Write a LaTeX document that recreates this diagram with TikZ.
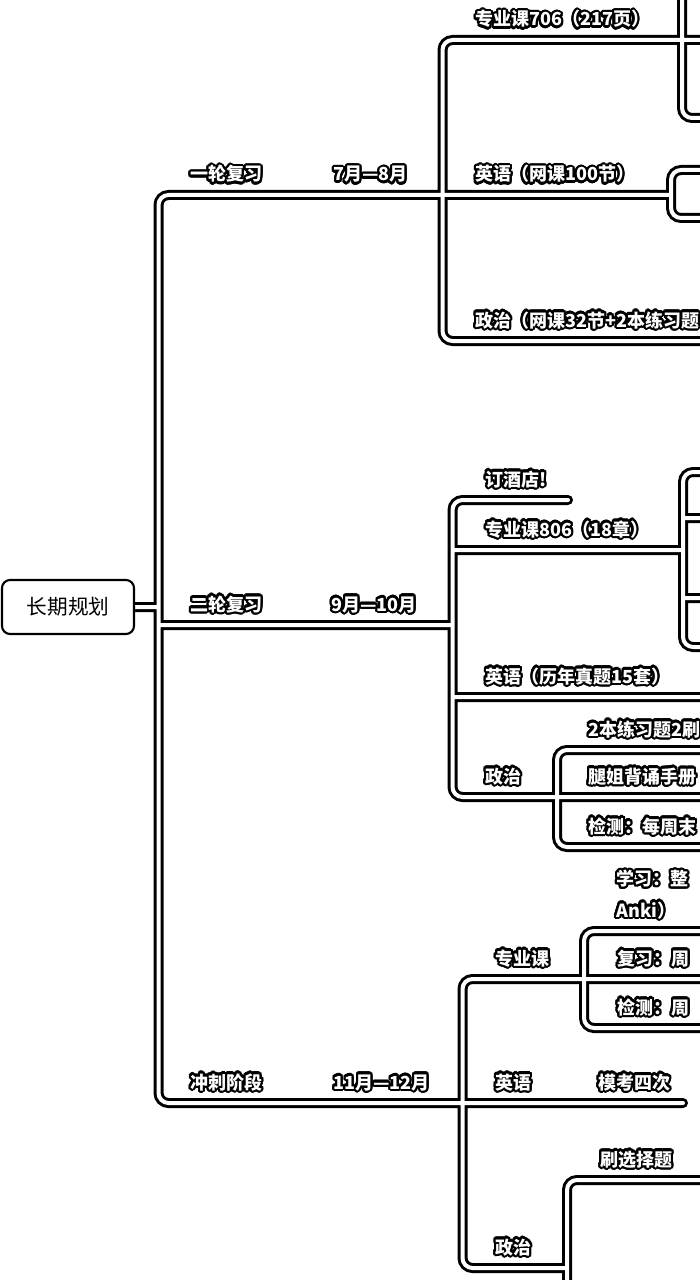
\documentclass[tikz,border=0pt]{standalone}
\usepackage{fontspec}
\usepackage[copies]{contour}
\newfontfamily\cjk{Noto Sans CJK SC}
\contourlength{1.6pt}
\contournumber{24}
\newcommand\halo[1]{\contour{black}{#1}}
\pgfdeclarelayer{wires}
\pgfsetlayers{wires,main}

\begin{document}
\begin{tikzpicture}[
  x=0.75pt, y=-0.75pt,
  root/.style={draw, line width=1.6pt, rounded corners=6pt, fill=white, minimum width=99pt, minimum height=40.5pt, font=\cjk\fontsize{15.5}{18}\selectfont},
  lbl/.style={anchor=base west, inner sep=0pt, text=white, align=left, font=\cjk\bfseries\fontsize{13.5}{16}\selectfont},
  wire/.style={line width=2.25pt, double=white, double distance=3pt, line cap=round, rounded corners=7.5pt}
]
  \useasboundingbox (0,0) rectangle (699,1280);

  \node[root] (root) at (68,607) {长期规划};

  \node[lbl] (yilun) at (190,181) {\halo{一轮复习}};
  \node[lbl] (yilunt) at (333,181) {\halo{7月—8月}};
  \node[lbl] (erlun) at (190,611) {\halo{二轮复习}};
  \node[lbl] (erlunt) at (331,611) {\halo{9月—10月}};
  \node[lbl] (chongci) at (190,1089) {\halo{冲刺阶段}};
  \node[lbl] (chongcit) at (333,1089) {\halo{11月—12月}};

  \node[lbl] (azhuan) at (475,26) {\halo{专业课706（217页）}};
  \node[lbl] (aying) at (475,181) {\halo{英语（网课100节）}};
  \node[lbl] (azheng) at (475,327) {\halo{政治（网课32节+2本练习题}};

  \node[lbl] (bjiu) at (485,486) {\halo{订酒店!}};
  \node[lbl] (bzhuan) at (485,536) {\halo{专业课806（18章）}};
  \node[lbl] (bying) at (485,683) {\halo{英语（历年真题15套）}};
  \node[lbl] (bzheng) at (485,783) {\halo{政治}};
  \node[lbl] (bzheng1) at (588,736) {\halo{2本练习题2刷}};
  \node[lbl] (bzheng2) at (588,783) {\halo{腿姐背诵手册}};
  \node[lbl] (bzheng3) at (588,833) {\halo{检测：每周末}};

  \node[lbl] (czhuan) at (495,965) {\halo{专业课}};
  \node[lbl] (czhuan1) at (616,917) {\halo{学习：整}\\[7.5pt]\halo{Anki）}};
  \node[lbl] (czhuan2) at (617,965) {\halo{复习：周}};
  \node[lbl] (czhuan3) at (617,1014) {\halo{检测：周}};
  \node[lbl] (cying) at (495,1089) {\halo{英语}};
  \node[lbl] (cying1) at (598,1089) {\halo{模考四次}};
  \node[lbl] (czheng) at (495,1254) {\halo{政治}};
  \node[lbl] (czheng1) at (600,1166) {\halo{刷选择题}};

  \coordinate (trunk) at (158.5,607);
  \coordinate (ja) at (442.5,195);
  \coordinate (jb) at (452.5,625);
  \coordinate (jc) at (462.5,1103);
  \coordinate (ja1) at (682,40);
  \coordinate (ja2) at (671,195);
  \coordinate (jb2) at (683,550);
  \coordinate (jb4) at (557,797);
  \coordinate (jc1) at (584,979);
  \coordinate (jc3) at (567,1268);

  \coordinate (ea1a) at (682,-20);
  \coordinate (ea1b) at (710,40);
  \coordinate (ea1c) at (710,118);
  \coordinate (ea2a) at (710,170);
  \coordinate (ea2b) at (710,218);
  \coordinate (ea3) at (710,341);
  \coordinate (eb1) at (568,500);
  \coordinate (eb2a) at (710,472);
  \coordinate (eb2b) at (710,518);
  \coordinate (eb2c) at (710,598);
  \coordinate (eb2d) at (710,647);
  \coordinate (eb3) at (710,697);
  \coordinate (eb4a) at (710,750);
  \coordinate (eb4b) at (710,797);
  \coordinate (eb4c) at (710,847);
  \coordinate (ec1a) at (710,931);
  \coordinate (ec1b) at (710,979);
  \coordinate (ec1c) at (710,1028);
  \coordinate (ec2) at (683,1103);
  \coordinate (ec3a) at (710,1180);
  \coordinate (ec3b) at (567,1300);

  \begin{pgfonlayer}{wires}
  \draw[wire]
    (root.east) -- (trunk)
    (ja) -| (trunk) |- (jc)
    (trunk |- jb) -- (jb)
    (ja1) -| (ja) |- (ea3)
    (ja) -- (ja2)
    (ea1a) |- (ea1c)
    (ja1) -- (ea1b)
    (ea2a) -| (ja2) |- (ea2b)
    (eb1) -| (jb) |- (jb4)
    (jb |- jb2) -- (jb2)
    (jb |- eb3) -- (eb3)
    (eb2a) -| (jb2) |- (eb2d)
    (jb2 |- eb2b) -- (eb2b)
    (jb2 |- eb2c) -- (eb2c)
    (eb4a) -| (jb4) |- (eb4c)
    (jb4) -- (eb4b)
    (jc1) -| (jc) |- (jc3)
    (jc) -- (ec2)
    (ec1a) -| (jc1) |- (ec1c)
    (jc1) -- (ec1b)
    (ec3a) -| (jc3) -- (ec3b);
  \end{pgfonlayer}
\end{tikzpicture}
\end{document}
